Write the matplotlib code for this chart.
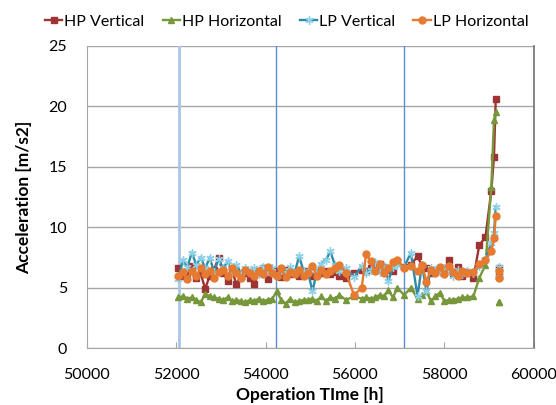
"""
plot.py - HP/LP vibration acceleration vs. operation time.
Output: out.png
"""

import matplotlib.pyplot as plt
import numpy as np

plt.rcParams['font.family'] = ['Lato', 'DejaVu Sans']

# ── data ─────────────────────────────────────────────────────────────────────
hours = [52050, 52150, 52250, 52350, 52450, 52550, 52650, 52750, 52850, 52950,
         53050, 53150, 53250, 53350, 53450, 53550, 53650, 53750, 53850, 53950,
         54050, 54150, 54250, 54350, 54450, 54550, 54650, 54750, 54850, 54950,
         55050, 55150, 55250, 55350, 55450, 55550, 55650, 55800, 55980,
         56150, 56250, 56350, 56450, 56550, 56650, 56750, 56850, 56950,
         57100, 57250,
         57400, 57500, 57600, 57700, 57800, 57900, 58000, 58100, 58200, 58300,
         58400, 58500,
         58650, 58780, 58920, 59050, 59110, 59150,
         np.nan, 59220, 59225]

hp_vertical = [6.6, 6.0, 6.2, 6.8, 5.8, 6.2, 4.9, 6.0, 6.5, 7.5,
               6.2, 5.6, 6.4, 5.3, 6.0, 6.2, 5.8, 5.3, 6.4, 6.6,
               5.7, 6.3, 6.4, 5.9, 6.5, 6.1, 6.3, 6.0, 6.2, 6.4,
               6.0, 6.3, 6.2, 6.4, 6.1, 6.3, 6.0, 5.8, 6.2,
               6.5, 6.4, 6.6, 6.8, 7.0, 6.7, 6.5, 6.4, 7.1,
               6.7, 6.9,
               7.6, 6.8, 6.6, 6.2, 6.4, 6.6, 6.4, 7.3, 6.2, 6.7,
               6.0, 6.3,
               5.8, 8.5, 9.2, 13.0, 15.8, 20.6,
               np.nan, 6.6, 6.0]

hp_horizontal = [4.2, 4.3, 4.1, 4.2, 4.0, 3.8, 4.5, 4.3, 4.2, 4.1,
                 4.0, 4.2, 3.9, 4.0, 3.9, 3.8, 4.0, 3.9, 4.1, 3.9,
                 4.0, 4.1, 4.7, 4.0, 3.7, 4.1, 3.8, 3.9, 4.0, 4.0,
                 4.1, 3.9, 4.3, 3.9, 4.2, 4.1, 4.4, 4.0, 4.3,
                 4.1, 4.2, 4.1, 4.2, 4.4, 4.3, 4.8, 4.2, 5.0,
                 4.4, 5.0,
                 4.1, 4.4, 4.7, 3.9, 4.3, 4.6, 3.9, 4.0, 4.0, 4.1,
                 4.2, 4.2,
                 4.3, 5.8, 6.9, 13.3, 18.9, 19.5,
                 np.nan, 3.8, 3.8]

lp_vertical = [5.7, 7.3, 6.7, 7.9, 6.9, 7.5, 6.6, 7.5, 6.3, 7.4,
               6.6, 7.2, 6.3, 6.9, 6.2, 6.6, 6.4, 6.6, 6.1, 6.7,
               6.4, 6.6, 6.0, 6.5, 6.3, 6.7, 6.2, 7.6, 6.4, 6.3,
               4.7, 6.4, 7.0, 7.3, 8.0, 6.9, 6.4, 6.6, 5.9,
               6.8, 6.2, 6.5, 7.1, 6.3, 6.8, 5.6, 6.7, 6.9,
               6.7, 7.9,
               4.3, 6.9, 4.7, 6.6, 6.5, 6.3, 6.6, 6.4, 6.0, 6.5,
               6.1, 6.4,
               6.2, 6.8, 7.4, 8.7, 9.5, 11.7,
               np.nan, 6.7, 5.9]

lp_horizontal = [6.0, 6.3, 5.7, 6.4, 6.0, 6.6, 6.1, 6.4, 5.8, 6.3,
                 6.5, 6.0, 6.6, 6.2, 5.8, 6.5, 6.2, 6.0, 6.4, 6.1,
                 6.7, 6.2, 6.0, 6.6, 5.9, 6.3, 6.1, 6.5, 6.0, 6.2,
                 6.8, 6.0, 6.5, 6.1, 6.4, 6.6, 6.9, 6.2, 4.4,
                 5.0, 7.8, 7.2, 6.4, 7.0, 6.2, 6.6, 7.1, 7.3,
                 6.6, 6.8,
                 6.4, 6.9, 5.5, 6.5, 6.2, 6.7, 6.1, 6.8, 6.3, 6.0,
                 6.4, 6.2,
                 6.3, 7.0, 7.3, 8.0, 9.1, 10.9,
                 np.nan, 6.4, 5.8]

event_hours = [52070, 54240, 57100]

# ── figure ───────────────────────────────────────────────────────────────────
fig, ax = plt.subplots(figsize=(5.56, 4.05), dpi=100)
fig.subplots_adjust(left=0.156, right=0.960, top=0.887, bottom=0.140)

# vertical event markers
ax.axvline(event_hours[0], color='#A9C6E8', lw=2.0, zorder=1)
for h in event_hours[1:]:
    ax.axvline(h, color='#5B8FCF', lw=1.0, zorder=1)

ax.plot(hours, hp_vertical, '-', color='#9E3333', lw=1.7, marker='s', ms=4.5,
        mfc='#9E3333', mec='#9E3333', label='HP Vertical', zorder=3)
ax.plot(hours, hp_horizontal, '-', color='#77983A', lw=1.7, marker='^', ms=5,
        mfc='#77983A', mec='#77983A', label='HP Horizontal', zorder=3)
ax.plot(hours, lp_vertical, '-', color='#2F8AA6', lw=1.7, marker=(6, 2, 0),
        ms=6, mec='#8ED0E8', mew=1.0, label='LP Vertical', zorder=3)
ax.plot(hours, lp_horizontal, '-', color='#E57A30', lw=1.7, marker='o', ms=5,
        mfc='#E57A30', mec='#E57A30', label='LP Horizontal', zorder=4)

# ── formatting ───────────────────────────────────────────────────────────────
ax.set_xlim(50000, 60000)
ax.set_ylim(0, 25)
ax.set_xticks(range(50000, 60001, 2000))
ax.set_yticks(range(0, 26, 5))
ax.yaxis.grid(True, color='#A6A6A6', lw=1.0)
ax.set_axisbelow(True)

for side in ('left', 'bottom'):
    ax.spines[side].set_color('#A6A6A6')
ax.spines['top'].set_visible(False)
ax.spines['right'].set_color('#707070')
ax.spines['right'].set_linewidth(1.2)

ax.tick_params(axis='x', direction='in', length=4, color='#A6A6A6',
               labelsize=11.5, pad=14)
ax.tick_params(axis='y', length=0, labelsize=11.5, pad=14)

ax.set_ylabel('Acceleration [m/s2]', fontsize=12.5, fontweight='bold', labelpad=12)
ax.set_xlabel('Operation TIme [h]', fontsize=12.5, fontweight='bold', labelpad=4)

ax.legend(loc='lower center', bbox_to_anchor=(0.447, 1.035), ncol=4,
          frameon=False, fontsize=11.5, handlelength=1.1, handletextpad=0.1,
          columnspacing=1.15, borderaxespad=0.0)

fig.savefig('out.png', dpi=100)
